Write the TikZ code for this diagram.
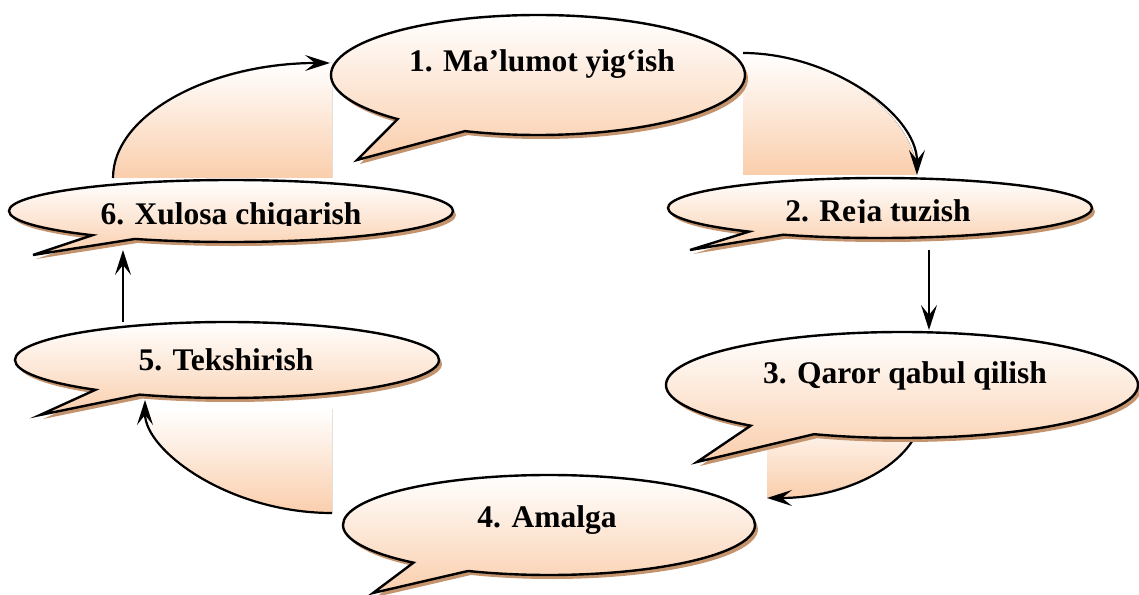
\documentclass[tikz,border=0pt]{standalone}
\usepackage{fontspec}
\setmainfont{Liberation Serif}
\usetikzlibrary{arrows.meta, calc, positioning, shapes.callouts, shadows}
\definecolor{peach}{RGB}{250,206,172}
\definecolor{shadowtan}{RGB}{196,148,110}
\tikzset{
  bubble/.style={ellipse callout, draw=black, line width=2.4bp, inner sep=0pt, outer sep=0pt,
    top color=white, bottom color=peach,
    drop shadow={shadow xshift=3bp, shadow yshift=-4bp, fill=shadowtan, opacity=1}},
  steplabel/.style={font=\bfseries\fontsize{31.5bp}{36bp}\selectfont, anchor=base, inner sep=0pt},
  flow/.style={line width=2.2bp, -{Stealth[length=25bp, width=16bp, inset=10bp]}},
  flowfill/.style={top color=white, bottom color=peach, draw=none},
}

\begin{document}
\begin{tikzpicture}[x=1bp, y=-1bp]
  \useasboundingbox (0,0) rectangle (1139,595);
  % ends of the connectors
  \coordinate (a61) at (113,178); \coordinate (e61) at (330,63);
  \coordinate (a12) at (743,53);  \coordinate (e12) at (917,175);
  \coordinate (a23) at (929,250); \coordinate (e23) at (929,330);
  \coordinate (a34) at (922,410); \coordinate (e34) at (767,498);
  \coordinate (a45) at (332,513); \coordinate (e45) at (145,400);
  \coordinate (a56) at (123,322); \coordinate (e56) at (123,250);

  % shaded bodies of the curved arrows
  \fill[flowfill] (a61) .. controls (113,114.5) and (210,63) .. (e61) -- (332,63) -- (332,178) -- cycle;
  \fill[flowfill] (a12) .. controls (830,53) and (917,114) .. (e12) -- (743,175) -- cycle;
  \fill[flowfill] (a34) .. controls (922,458.6) and (852.6,498) .. (e34) -- (767,410) -- cycle;
  \fill[flowfill] (145,409) -- (332,409) -- (a45) .. controls (228.8,513) and (145,455) .. (145,409) -- cycle;

  \draw[flow] (a61) .. controls (113,114.5) and (210,63) .. (e61);
  \draw[flow] (a12) .. controls (830,53) and (917,114) .. (e12);
  \draw[flow] (a34) .. controls (922,458.6) and (852.6,498) .. (e34);
  \draw[flow] (a45) .. controls (228.8,513) and (145,450.6) .. (e45);

  % the six steps
  \node[bubble, minimum width=414bp, minimum height=120bp, callout pointer arc=22, callout absolute pointer={(357,160)}] (b1) at (538,75) {};
  \node[bubble, minimum width=424bp, minimum height=60bp, callout pointer arc=11, callout absolute pointer={(690,250)}] (b2) at (880,208) {};
  \node[bubble, minimum width=472bp, minimum height=106bp, callout pointer arc=18, callout absolute pointer={(697,462)}] (b3) at (902,385) {};
  \node[bubble, minimum width=412bp, minimum height=100bp, callout pointer arc=18, callout absolute pointer={(373,593)}] (b4) at (549,525) {};
  \node[bubble, minimum width=424bp, minimum height=76bp, callout pointer arc=14, callout absolute pointer={(40,415)}] (b5) at (227,360) {};
  \node[bubble, minimum width=444bp, minimum height=62bp, callout pointer arc=13, callout absolute pointer={(33,255)}] (b6) at (231,211) {};

  \node[steplabel] (t1) at (542,72) {1. Ma’lumot yig‘ish};
  \begin{scope}
    \clip (600,150) rectangle (1139,223);
    \node[steplabel] (t2) at (878,222) {2. Reja tuzish};
  \end{scope}
  \node[steplabel] (t3) at (905,383) {3. Qaror qabul qilish};
  \node[steplabel] (t4) at (547,527) {4. Amalga};
  \node[steplabel] (t5) at (226,370) {5. Tekshirish};
  \begin{scope}
    \clip (0,150) rectangle (480,226);
    \node[steplabel] (t6) at (231,225) {6. Xulosa chiqarish};
  \end{scope}

  \draw[flow] (a23) -- (e23);
  \draw[flow] (a56) -- (e56);
\end{tikzpicture}
\end{document}
